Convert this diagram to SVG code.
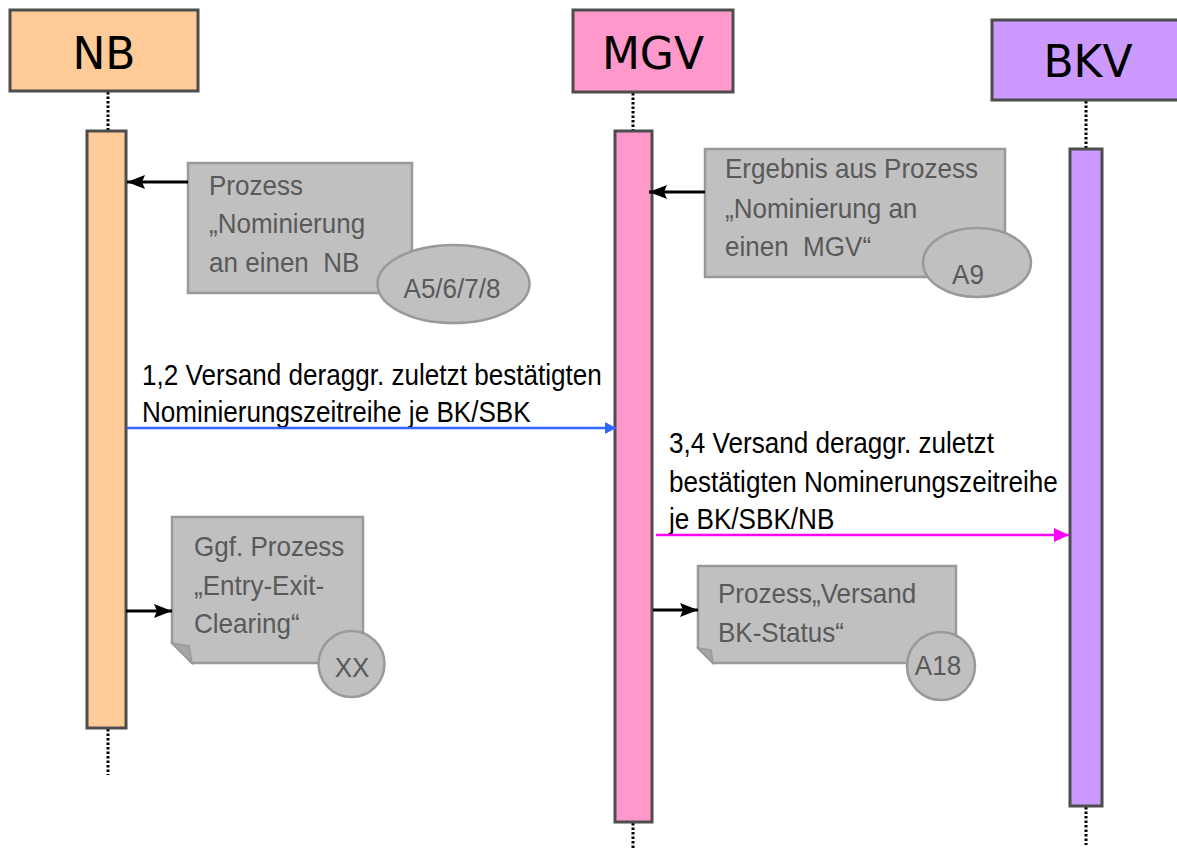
<svg xmlns="http://www.w3.org/2000/svg" width="1177" height="850" viewBox="0 0 1177 850">
  <style>
    .hdr { stroke: #4d4d4d; stroke-width: 3; }
    .hdr-text { font-family: "DejaVu Sans", Verdana, sans-serif; font-size: 44px; fill: #000; text-anchor: middle; }
    .act { stroke: #4d4d4d; stroke-width: 3; }
    .life { stroke: #000; stroke-width: 3; stroke-dasharray: 2.5 2; fill: none; }
    .proc { fill: #c0c0c0; stroke: #999999; stroke-width: 2.5; }
    .fold { fill: #a6a6a6; stroke: #999999; stroke-width: 1.5; }
    .proc-text { font-family: "Liberation Sans", Arial, sans-serif; font-size: 28px; fill: #595959; white-space: pre; }
    .tag-text { font-family: "Liberation Sans", Arial, sans-serif; font-size: 28px; fill: #595959; text-anchor: middle; }
    .msg-text { font-family: "Liberation Sans", Arial, sans-serif; font-size: 30px; fill: #000; white-space: pre; }
    .call { stroke: #000; stroke-width: 3; fill: none; }
  </style>
  <defs>
    <marker id="arrow-black" markerUnits="userSpaceOnUse" markerWidth="20" markerHeight="16" refX="18" refY="7" orient="auto">
      <path d="M0,0 L18,7 L0,14 L3,7 Z" fill="#000"/>
    </marker>
    <marker id="arrow-blue" markerUnits="userSpaceOnUse" markerWidth="12" markerHeight="14" refX="11" refY="6" orient="auto">
      <path d="M0,0 L11,6 L0,12 Z" fill="#3366ff"/>
    </marker>
    <marker id="arrow-magenta" markerUnits="userSpaceOnUse" markerWidth="16" markerHeight="16" refX="15" refY="7" orient="auto">
      <path d="M0,0 L15,7 L0,14 Z" fill="#ff00ff"/>
    </marker>
  </defs>

  <rect width="1177" height="850" fill="#ffffff"/>

  <!-- lifelines -->
  <g id="lifelines">
    <line class="life" x1="108" y1="92" x2="108" y2="131"/>
    <line class="life" x1="108" y1="729" x2="108" y2="775"/>
    <line class="life" x1="633" y1="93" x2="633" y2="131"/>
    <line class="life" x1="633" y1="823" x2="633" y2="848"/>
    <line class="life" x1="1086" y1="101" x2="1086" y2="149"/>
    <line class="life" x1="1086" y1="807" x2="1086" y2="845"/>
  </g>

  <!-- participant NB -->
  <g id="nb">
    <rect class="hdr" x="10" y="10" width="188" height="81" fill="#ffcc99"/>
    <text class="hdr-text" x="104" y="69">NB</text>
    <rect class="act" x="87" y="131" width="39" height="597" fill="#ffcc99"/>
  </g>

  <!-- participant MGV -->
  <g id="mgv">
    <rect class="hdr" x="573" y="10" width="160" height="82" fill="#ff99cc"/>
    <text class="hdr-text" x="653" y="69">MGV</text>
    <rect class="act" x="615" y="131" width="37" height="691" fill="#ff99cc"/>
  </g>

  <!-- participant BKV -->
  <g id="bkv">
    <rect class="hdr" x="992" y="20" width="200" height="80" fill="#cc99ff"/>
    <text class="hdr-text" x="1088" y="77">BKV</text>
    <rect class="act" x="1070" y="149" width="32" height="657" fill="#cc99ff"/>
  </g>

  <!-- process: Nominierung an einen NB -->
  <g id="proc-a5">
    <rect class="proc" x="188" y="163" width="224" height="130"/>
    <text class="proc-text" transform="translate(209 195) scale(0.93 1)">Prozess</text>
    <text class="proc-text" transform="translate(209 233) scale(0.93 1)">„Nominierung</text>
    <text class="proc-text" transform="translate(209 272) scale(0.93 1)" xml:space="preserve">an einen  NB</text>
    <ellipse class="proc" cx="453.5" cy="284" rx="76" ry="39"/>
    <text class="tag-text" transform="translate(452 298) scale(0.93 1)">A5/6/7/8</text>
  </g>

  <!-- process: Nominierung an einen MGV -->
  <g id="proc-a9">
    <rect class="proc" x="705" y="149" width="300" height="128"/>
    <text class="proc-text" transform="translate(725 178) scale(0.93 1)">Ergebnis aus Prozess</text>
    <text class="proc-text" transform="translate(725 218) scale(0.93 1)">„Nominierung an</text>
    <text class="proc-text" transform="translate(725 256) scale(0.93 1)" xml:space="preserve">einen  MGV“</text>
    <ellipse class="proc" cx="977" cy="262.5" rx="54" ry="34.5"/>
    <text class="tag-text" transform="translate(968 284) scale(0.93 1)">A9</text>
  </g>

  <!-- process: Entry-Exit-Clearing -->
  <g id="proc-xx">
    <path class="proc" d="M172,517 H363 V663 H192 L172,643 Z"/>
    <path class="fold" d="M172,643 L192,663 L189,646 Z"/>
    <text class="proc-text" transform="translate(194 556) scale(0.93 1)">Ggf. Prozess</text>
    <text class="proc-text" transform="translate(194 595) scale(0.93 1)">„Entry-Exit-</text>
    <text class="proc-text" transform="translate(194 633) scale(0.93 1)">Clearing“</text>
    <circle class="proc" cx="351.5" cy="664" r="33"/>
    <text class="tag-text" transform="translate(352 677) scale(0.93 1)">XX</text>
  </g>

  <!-- process: Versand BK-Status -->
  <g id="proc-a18">
    <path class="proc" d="M698,566 H956 V663 H713 L698,648 Z"/>
    <path class="fold" d="M698,648 L713,663 L711,650 Z"/>
    <text class="proc-text" transform="translate(718 603) scale(0.93 1)">Prozess„Versand</text>
    <text class="proc-text" transform="translate(718 642) scale(0.93 1)">BK-Status“</text>
    <circle class="proc" cx="941" cy="666" r="34"/>
    <text class="tag-text" transform="translate(938 675) scale(0.93 1)">A18</text>
  </g>

  <!-- message labels -->
  <g id="msg-1-2">
    <text class="msg-text" transform="translate(142 385) scale(0.87 1)">1,2 Versand deraggr. zuletzt bestätigten</text>
    <text class="msg-text" transform="translate(142 422) scale(0.87 1)">Nominierungszeitreihe je BK/SBK</text>
  </g>
  <g id="msg-3-4">
    <text class="msg-text" transform="translate(669 453) scale(0.87 1)">3,4 Versand deraggr. zuletzt</text>
    <text class="msg-text" transform="translate(669 492) scale(0.87 1)">bestätigten Nominerungszeitreihe</text>
    <text class="msg-text" transform="translate(669 529) scale(0.87 1)">je BK/SBK/NB</text>
  </g>

  <!-- connectors -->
  <g id="connectors">
    <line class="call" x1="188" y1="182" x2="127" y2="182" marker-end="url(#arrow-black)"/>
    <line class="call" x1="705" y1="192" x2="649" y2="192" marker-end="url(#arrow-black)"/>
    <line x1="127" y1="428" x2="616" y2="428" stroke="#3366ff" stroke-width="2.5" marker-end="url(#arrow-blue)"/>
    <line x1="656" y1="535" x2="1069" y2="535" stroke="#ff00ff" stroke-width="2.5" marker-end="url(#arrow-magenta)"/>
    <line class="call" x1="126" y1="611" x2="172" y2="611" marker-end="url(#arrow-black)"/>
    <line class="call" x1="653" y1="610" x2="698" y2="610" marker-end="url(#arrow-black)"/>
  </g>
</svg>
